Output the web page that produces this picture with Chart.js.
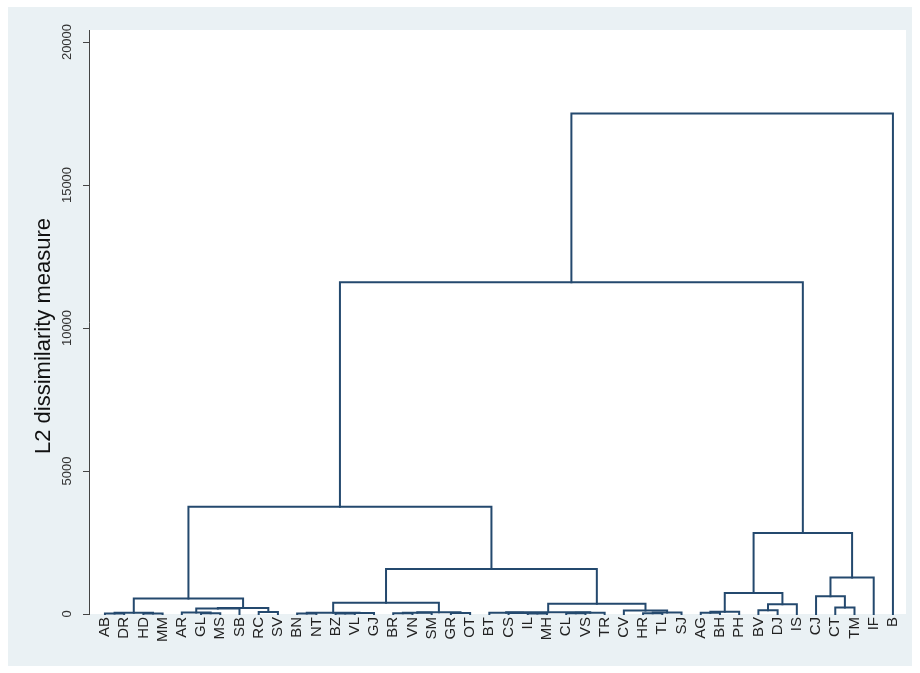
<!DOCTYPE html>
<html>
<head>
<meta charset="utf-8">
<script src="https://cdn.jsdelivr.net/npm/chart.js@4.4.1/dist/chart.umd.min.js"></script>
<style>
  html, body { margin: 0; padding: 0; background: #ffffff; }
  #wrap { width: 920px; height: 673px; position: relative; }
</style>
</head>
<body>
<div id="wrap"><canvas id="dendro"></canvas></div>
<script>
// Leaves in display order (left to right)
const leafLabels = ['AB','DR','HD','MM','AR','GL','MS','SB','RC','SV',
                    'BN','NT','BZ','VL','GJ','BR','VN','SM','GR','OT',
                    'BT','CS','IL','MH','CL','VS','TR','CV','HR','TL','SJ',
                    'AG','BH','PH','BV','DJ','IS','CJ','CT','TM','IF','B'];

// Agglomeration steps: ids below leafLabels.length are leaves,
// id leafLabels.length + k refers to the cluster formed at step k.
const mergeLeft   = [0, 2, 42, 5, 4, 46, 8, 47, 44,
                     10, 12, 52, 51, 15, 55, 18, 56, 54,
                     22, 21, 20, 24, 63, 62, 28, 66, 27, 65,
                     59, 50,
                     31, 72, 34, 74, 73, 38, 37, 78, 76,
                     71, 81];
const mergeRight  = [1, 3, 43, 6, 45, 7, 9, 48, 49,
                     11, 13, 14, 53, 16, 17, 19, 57, 58,
                     23, 60, 61, 25, 26, 64, 29, 30, 67, 68,
                     69, 70,
                     32, 33, 35, 36, 75, 39, 77, 40, 79,
                     80, 41];
const mergeHeight = [20, 20, 45, 30, 55, 190, 70, 210, 540,
                     20, 20, 35, 45, 30, 45, 35, 60, 390,
                     20, 35, 45, 30, 45, 60, 30, 50, 120, 360,
                     1570, 3750,
                     40, 80, 130, 340, 730, 230, 620, 1280, 2830,
                     11600, 17500];

const yTickValues = [0, 5000, 10000, 15000, 20000];
const yTitle = 'L2 dissimilarity measure';

// Build the bracket for every merge: up from each child, across at the merge height
const nodeX = leafLabels.map((_, i) => i);
const nodeH = leafLabels.map(() => 0);
const brackets = [];
mergeLeft.forEach((a, k) => {
  const b = mergeRight[k];
  const h = mergeHeight[k];
  brackets.push([
    { x: nodeX[a], y: nodeH[a] },
    { x: nodeX[a], y: h },
    { x: nodeX[b], y: h },
    { x: nodeX[b], y: nodeH[b] }
  ]);
  nodeX.push((nodeX[a] + nodeX[b]) / 2);
  nodeH.push(h);
});

const LINE_COLOR = '#24496e';
const FONT = "'Liberation Sans', Arial, sans-serif";

const datasets = brackets.map(pts => ({
  data: pts,
  borderColor: LINE_COLOR,
  borderWidth: 2,
  pointRadius: 0,
  pointHoverRadius: 0,
  fill: false,
  tension: 0,
  clip: false,
  borderJoinStyle: 'miter',
  borderCapStyle: 'square'
}));

// Backgrounds: outer graph region, white plot region, plus the axis title
const panels = {
  id: 'panels',
  beforeDraw(chart) {
    const { ctx, chartArea: a } = chart;
    ctx.save();
    ctx.fillStyle = '#ffffff';
    ctx.fillRect(0, 0, chart.width, chart.height);
    ctx.fillStyle = 'rgb(234,241,244)';
    ctx.fillRect(8, 7, 904, 659);
    ctx.fillStyle = '#ffffff';
    ctx.fillRect(a.left, a.top, a.right - a.left, a.bottom - a.top);
    ctx.restore();
  },
  afterDraw(chart) {
    const { ctx } = chart;
    ctx.save();
    ctx.translate(44, 336);
    ctx.rotate(-Math.PI / 2);
    ctx.font = '22px ' + FONT;
    ctx.fillStyle = '#111111';
    ctx.textAlign = 'center';
    ctx.textBaseline = 'middle';
    ctx.fillText(yTitle, 0, 0);
    ctx.restore();
  }
};

new Chart(document.getElementById('dendro'), {
  type: 'line',
  data: { datasets },
  plugins: [panels],
  options: {
    responsive: true,
    maintainAspectRatio: false,
    animation: false,
    events: [],
    layout: { padding: { left: 8, right: 14, top: 30, bottom: 7 } },
    plugins: { legend: { display: false }, tooltip: { enabled: false } },
    scales: {
      x: {
        type: 'linear',
        min: -0.83,
        max: 41.68,
        grid: { display: false, drawTicks: false },
        border: { display: false },
        afterBuildTicks: axis => { axis.ticks = leafLabels.map((_, i) => ({ value: i })); },
        afterFit: scale => { scale.height = 52; },
        ticks: {
          autoSkip: false,
          minRotation: 90,
          maxRotation: 90,
          padding: 3,
          color: '#222222',
          font: { family: FONT, size: 15 },
          callback: v => leafLabels[v] ?? ''
        }
      },
      y: {
        type: 'linear',
        min: 0,
        max: 20420,
        afterBuildTicks: axis => { axis.ticks = yTickValues.map(v => ({ value: v })); },
        afterFit: scale => { scale.width = 81; },
        grid: { display: true, drawOnChartArea: false, drawTicks: true, tickLength: 6, color: '#444444', lineWidth: 1 },
        border: { display: true, color: '#444444', width: 1 },
        ticks: {
          minRotation: 90,
          maxRotation: 90,
          crossAlign: 'center',
          padding: -2,
          color: '#333333',
          font: { family: FONT, size: 13 },
          callback: v => String(v)
        }
      }
    }
  }
});
</script>
</body>
</html>
